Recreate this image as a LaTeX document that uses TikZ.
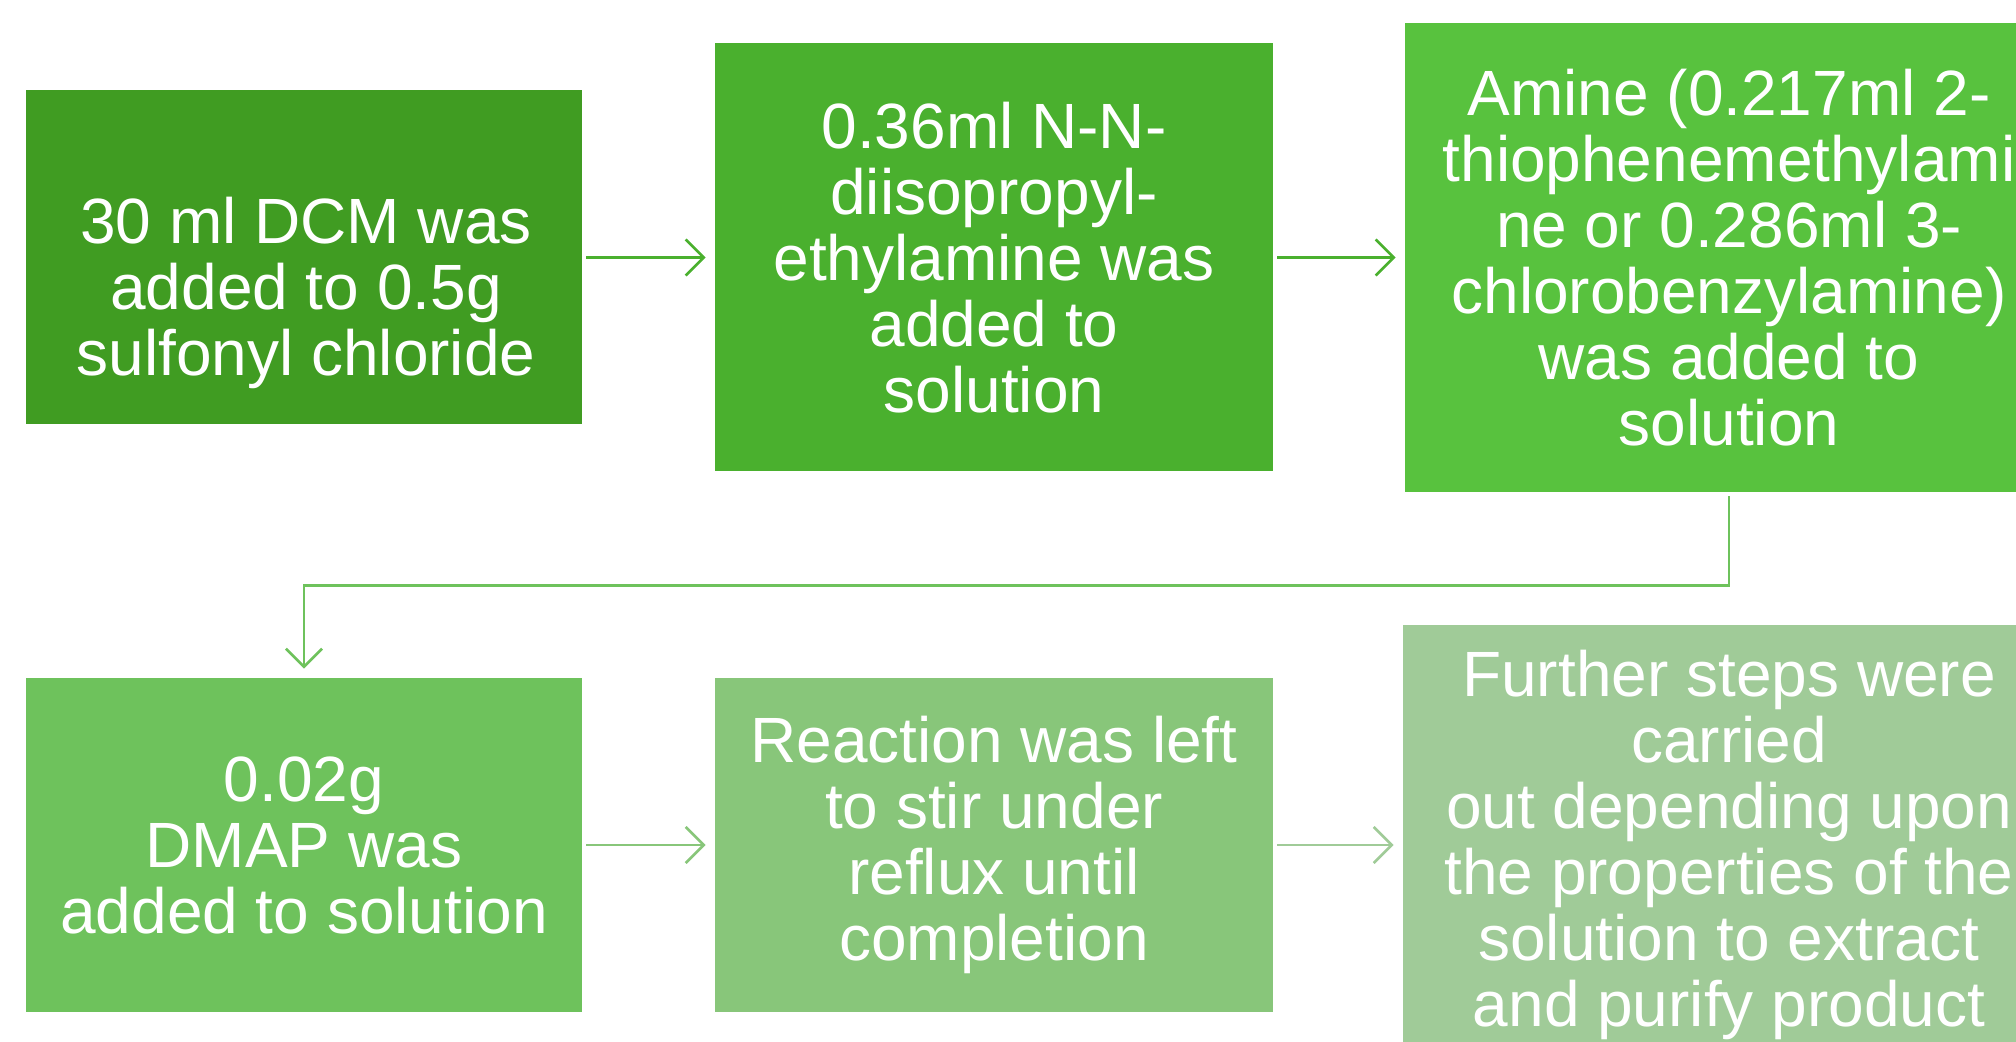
\documentclass[tikz,border=0pt]{standalone}
\usepackage{fontspec}
\setmainfont{Liberation Sans}
\usepackage{xcolor}
\usepackage{tikz}
\usetikzlibrary{arrows.meta}

\definecolor{stepA}{RGB}{64,156,34}
\definecolor{stepB}{RGB}{74,176,46}
\definecolor{stepC}{RGB}{88,194,62}
\definecolor{stepD}{RGB}{110,194,92}
\definecolor{stepE}{RGB}{136,198,122}
\definecolor{stepF}{RGB}{160,203,152}

\begin{document}
\begin{tikzpicture}[x=0.5pt, y=-0.5pt,
    box/.style={rectangle, inner sep=0pt, text=white, align=center,
        font=\fontsize{32}{33}\selectfont},
    link/.style={line width=1.35pt, -{Straight Barb[length=9pt, width=18pt, line width=1.35pt]},
        shorten <=2pt, shorten >=4.5pt}]
						\useasboundingbox (0,0) rectangle (2016,1042);
						\clip (0,0) rectangle (2016,1042);
						\node[box, fill=stepA, minimum width=278pt, minimum height=167pt] (dcm) at (304,257.5) {};
						\node[box] (dcm-text) at (306,293) {30 ml DCM was\\added to 0.5g\\sulfonyl chloride};
						\node[box, fill=stepB, minimum width=279pt, minimum height=214pt] (base) at (994,257.5) {0.36ml N-N-\\diisopropyl-\\ethylamine was\\added to\\solution};
						\node[box, fill=stepC, minimum width=324pt, minimum height=234.5pt] (amine) at (1729,257.5) {Amine (0.217ml 2-\\thiophenemethylami\\ne or 0.286ml 3-\\chlorobenzylamine)\\was added to\\solution};
						\node[box, fill=stepD, minimum width=278pt, minimum height=167pt] (dmap) at (304,845) {0.02g\\DMAP was\\added to solution};
						\node[box, fill=stepE, minimum width=279pt, minimum height=167pt] (reflux) at (994,845) {Reaction was left\\to stir under\\reflux until\\completion};
						\node[box, fill=stepF, minimum width=326pt, minimum height=220pt] (workup) at (1729,845) {Further steps were\\carried\\out depending upon\\the properties of the\\solution to extract\\and purify product};
						\draw[link, stepB] (dcm) -- (base);
						\draw[link, stepB] (base) -- (amine);
						\draw[link, stepD] (amine.south) -- ++(0,93) -| (dmap.north);
						\draw[link, stepE] (dmap) -- (reflux);
						\draw[link, stepF] (reflux) -- (workup);
					\end{tikzpicture}
\end{document}
